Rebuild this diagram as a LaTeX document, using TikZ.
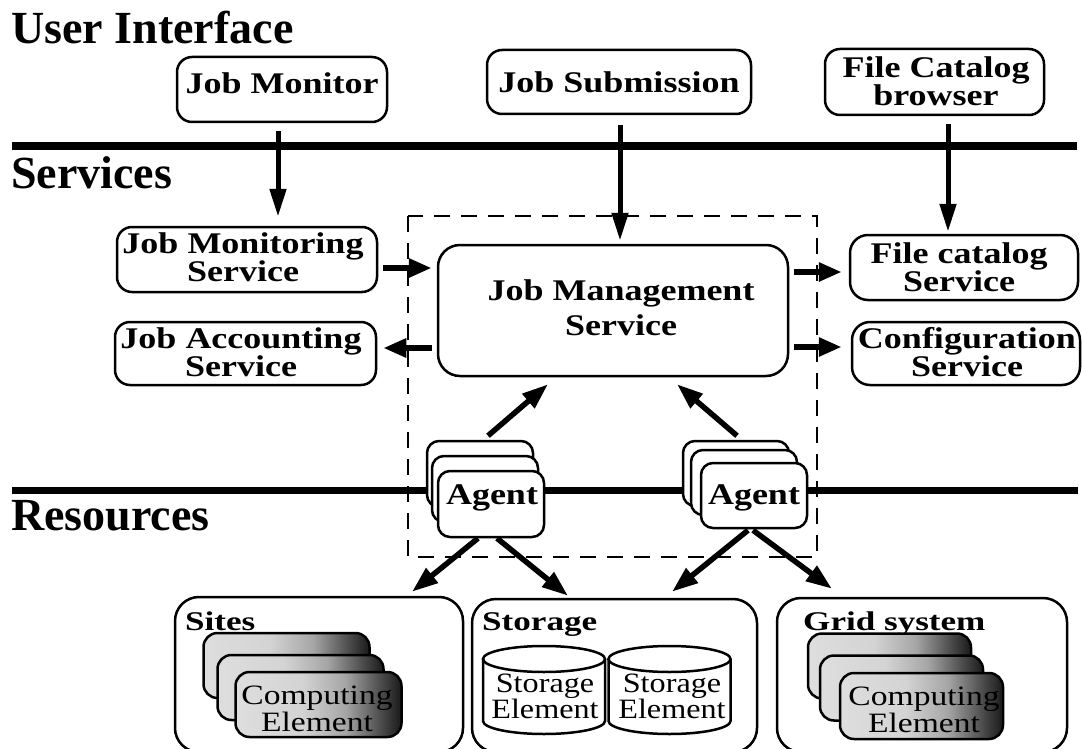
\documentclass[tikz,border=0pt]{standalone}
\usepackage{fontspec}
\setmainfont{Liberation Serif}
\newfontfamily\wf[FakeStretch=1.2]{Liberation Serif}
\newfontfamily\wfb[FakeStretch=1.3]{Liberation Serif}
\newfontfamily\wfs[FakeStretch=1.15]{Liberation Serif}
\usetikzlibrary{arrows.meta,calc}
\pgfdeclarehorizontalshading{cegrad}{100bp}{color(0bp)=(black!13); color(25bp)=(black!13); color(45bp)=(black!17); color(58bp)=(black!35); color(68bp)=(black!68); color(75bp)=(black!90); color(100bp)=(black!90)}
\begin{document}
\begin{tikzpicture}[x=1pt,y=-1pt,
  bx/.style={draw, line width=2.5pt, fill=white, inner sep=0pt, rounded corners=15pt},
  big/.style={draw, line width=2.5pt, fill=white, inner sep=0pt, rounded corners=24pt},
  ag/.style={draw, line width=2.5pt, fill=white, inner sep=0pt, rounded corners=12pt, minimum width=106pt, minimum height=66pt},
  ce/.style={draw, line width=2.5pt, shading=cegrad, inner sep=0pt, rounded corners=14pt, minimum width=166pt, minimum height=65pt},
  hdr/.style={inner sep=0pt, anchor=north west, font=\bfseries\fontsize{46}{50}\selectfont},
  tx/.style={inner sep=0pt, anchor=north, align=center, font=\wf\bfseries\fontsize{30}{#1}\selectfont},
  tx/.default=26,
  cat/.style={inner sep=0pt, anchor=north west, font=\wfb\bfseries\fontsize{27}{30}\selectfont},
  cet/.style={inner sep=0pt, anchor=north, align=center, font=\wf\fontsize{28}{23}\selectfont},
  set/.style={inner sep=0pt, anchor=north, align=center, font=\wfs\fontsize{28}{26}\selectfont},
  arrv/.style={line width=5pt, -{Triangle[length=28pt,width=16pt]}},
  arrh/.style={line width=6.5pt, -{Triangle[length=23pt,width=18pt]}},
  arrd/.style={line width=5.5pt, -{Triangle[length=26pt,width=18pt]}}
]
\useasboundingbox (0,0) rectangle (1082,749);

% layer bars
\coordinate (b1l) at (12,146); \coordinate (b1r) at (1077,146);
\coordinate (b2l) at (12,490); \coordinate (b2r) at (1078,490);
\draw[line width=8pt] (b1l) -- (b1r);
\draw[line width=7pt] (b2l) -- (b2r);

% headers
\node[hdr] (tUI) at (11,11) {User Interface};
\node[hdr] (tSv) at (11,156) {Services};
\node[hdr] (tRs) at (11,500) {Resources};

% dashed frame
\coordinate (dA) at (408,216); \coordinate (dB) at (817,557);
\draw[line width=2pt, dash pattern=on 16pt off 11pt] (dA) rectangle (dB);

% user interface boxes
\node[bx, minimum width=210pt, minimum height=65pt] (jm) at (282,89.5) {};
\node[tx] (jm-t) at (282,72) {Job Monitor};
\node[bx, minimum width=264pt, minimum height=64pt] (js) at (619,82) {};
\node[tx] (js-t) at (619,71) {Job Submission};
\node[bx, minimum width=219pt, minimum height=66pt] (fcb) at (934.5,82) {};
\node[tx=25] (fcb-t) at (936,56) {File Catalog\\browser};

% services
\node[bx, minimum width=260pt, minimum height=65pt] (jmsvc) at (247,259.5) {};
\node[tx=27] (jmsvc-t) at (243,232) {Job Monitoring\\Service};
\node[bx, minimum width=261pt, minimum height=63pt] (jas) at (245.5,353.5) {};
\node[tx=27] (jas-t) at (241,327) {Job Accounting\\Service};
\node[bx, rounded corners=22pt, minimum width=350pt, minimum height=131pt] (jms) at (613,310.5) {};
\node[tx=35] (jms-t) at (621,279) {Job Management\\Service};
\node[bx, rounded corners=18pt, minimum width=228pt, minimum height=65pt] (fcs) at (964,267.5) {};
\node[tx=24] (fcs-t) at (959,242) {File catalog\\Service};
\node[bx, rounded corners=18pt, minimum width=228pt, minimum height=63pt] (cfg) at (966,353.5) {};
\node[tx=25] (cfg-t) at (967,327) {Configuration\\Service};

% agents
\node[ag] (ag1c) at (480,474) {};
\node[ag] (ag1b) at (485,489) {};
\node[ag] (ag1) at (491,504) {};
\node[tx] (ag1-t) at (492,484) {Agent};
\node[ag, minimum height=65pt] (ag2c) at (736,473.5) {};
\node[ag, minimum height=65pt] (ag2b) at (744,482.5) {};
\node[ag, minimum height=65pt] (ag2) at (754,495.5) {};
\node[tx] (ag2-t) at (754,484) {Agent};

% resources
\node[big, minimum width=288pt, minimum height=155pt] (sites) at (319,674.5) {};
\node[cat] (sites-t) at (185,612) {Sites};
\node[big, minimum width=285pt, minimum height=153pt] (storage) at (614.5,675.5) {};
\node[cat] (storage-t) at (482,612) {Storage};
\node[big, minimum width=290pt, minimum height=154pt] (grid) at (922,675) {};
\node[cat] (grid-t) at (803,612) {Grid system};

% computing elements (sites)
\node[ce] (s-ce3) at (286.5,665.5) {};
\node[ce] (s-ce2) at (300.5,687.5) {};
\node[ce] (s-ce1) at (318.5,704.5) {};
\node[cet] (s-ce-t) at (317,686) {Computing\\Element};
% computing elements (grid)
\node[ce, minimum width=163pt] (g-ce3) at (889.5,666) {};
\node[ce, minimum width=163pt] (g-ce2) at (901.5,688) {};
\node[ce, minimum width=163pt, minimum height=66pt] (g-ce1) at (921.5,706) {};
\node[cet] (g-ce-t) at (924,687) {Computing\\Element};

% storage elements (cylinders)
\coordinate (se1) at (544,659);
\coordinate (se2) at (669.5,659);
\foreach \c in {se1,se2}{
  \draw[line width=2.5pt, fill=white] ($(\c)+(-61,0)$) -- ($(\c)+(-61,62)$)
     arc[start angle=180, end angle=0, x radius=61, y radius=13] -- ($(\c)+(61,0)$);
  \draw[line width=2.5pt] (\c) ellipse[x radius=61, y radius=13];
}
\node[set] (se1-t) at (545,674) {Storage\\Element};
\node[set] (se2-t) at (672,674) {Storage\\Element};

% connectors: user interface -> services
\draw[arrv] ($(jm.south)+(-4,8)$) -- ($(jmsvc.north)+(31,-9)$);
\draw[arrv] ($(js.south)+(1,10)$) -- ($(jms.north)+(7,-3)$);
\draw[arrv] ($(fcb.south)+(13.5,8)$) -- ($(fcs.north)+(-16,-2)$);

% services <-> job management
\draw[arrh] ($(jmsvc.east)+(5,8.5)$) -- ($(jms.west)+(-5,-42.5)$);
\draw[arrh] ($(jms.west)+(-5,37.5)$) -- ($(jas.east)+(6,-5.5)$);
\draw[arrh] ($(jms.east)+(5,-38.5)$) -- ($(fcs.west)+(-7,4.5)$);
\draw[arrh] ($(jms.east)+(5,36.5)$) -- ($(cfg.west)+(-9,-6.5)$);

% agents -> job management
\draw[arrd] ($(ag1c.north)+(8,-4)$) -- ($(jms.south)+(-65,7)$);
\draw[arrd] ($(ag2c.north)+(1,-4)$) -- ($(jms.south)+(64,7)$);

% agents -> resources
\draw[arrd] ($(ag1.south)+(-13,0)$) -- ($(sites.north)+(93,-4)$);
\draw[arrd] ($(ag1.south)+(6,0)$) -- ($(storage.north)+(-46.5,-2)$);
\draw[arrd] ($(ag2.south)+(-6,1)$) -- ($(storage.north)+(57.5,-6)$);
\draw[arrd] ($(ag2.south)+(-1,1)$) -- ($(grid.north)+(-90,-8)$);
\end{tikzpicture}
\end{document}
